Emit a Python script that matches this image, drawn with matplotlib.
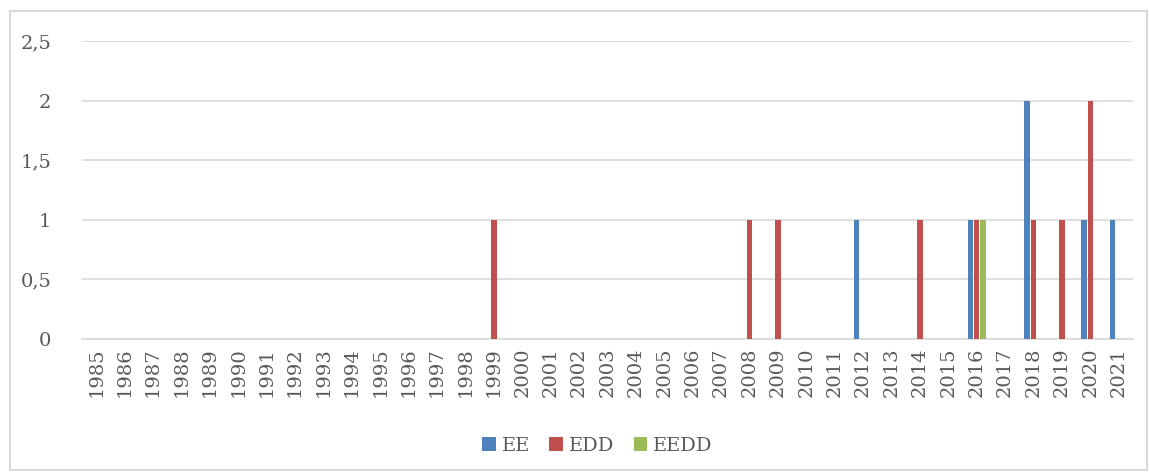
import numpy as np
import matplotlib.pyplot as plt
from matplotlib.patches import Rectangle

years = list(range(1985, 2022))
ee = {2012: 1, 2016: 1, 2018: 2, 2020: 1, 2021: 1}
edd = {1999: 1, 2008: 1, 2009: 1, 2014: 1, 2016: 1, 2018: 1, 2019: 1, 2020: 2}
eedd = {2016: 1}

ee_vals = [ee.get(y, 0) for y in years]
edd_vals = [edd.get(y, 0) for y in years]
eedd_vals = [eedd.get(y, 0) for y in years]

plt.rcParams['font.family'] = ['DejaVu Serif']
text_col = '#595959'

fig = plt.figure(figsize=(11.49, 4.75), dpi=100)
ax = fig.add_axes([0.0714, 0.2863, 0.9146, 0.6274])

x = np.arange(len(years))
w = 0.19
ax.bar(x - 0.225, ee_vals, w, color='#4F81BD', label='EE', zorder=3)
ax.bar(x, edd_vals, w, color='#C0504D', label='EDD', zorder=3)
ax.bar(x + 0.225, eedd_vals, w, color='#9BBB59', label='EEDD', zorder=3)

ax.set_xlim(-0.5, len(years) - 0.5)
ax.set_ylim(0, 2.5)
ax.set_yticks([0, 0.5, 1, 1.5, 2, 2.5])
ax.set_yticklabels(['0', '0,5', '1', '1,5', '2', '2,5'])
ax.set_xticks(x)
ax.set_xticklabels([str(y) for y in years], rotation=90)
ax.tick_params(axis='both', length=0, labelsize=14, colors=text_col)
ax.tick_params(axis='y', pad=22)
ax.tick_params(axis='x', pad=6)
ax.yaxis.grid(True, color='#d9d9d9', linewidth=1.2, zorder=0)
for s in ['top', 'right', 'left']:
    ax.spines[s].set_visible(False)
ax.spines['bottom'].set_color('#d9d9d9')
ax.spines['bottom'].set_linewidth(1.2)

leg = fig.legend(loc='center', bbox_to_anchor=(0.52, 0.061), ncol=3, frameon=False,
                 fontsize=14, handlelength=0.7, handleheight=0.7, handletextpad=0.3,
                 columnspacing=1.0)
for t in leg.get_texts():
    t.set_color(text_col)

fig.patches.append(Rectangle((10 / 1149, 5 / 475), 1137 / 1149, 459 / 475,
                             transform=fig.transFigure, fill=False,
                             edgecolor='#d9d9d9', linewidth=1.5))

fig.savefig('out.png', dpi=100)
